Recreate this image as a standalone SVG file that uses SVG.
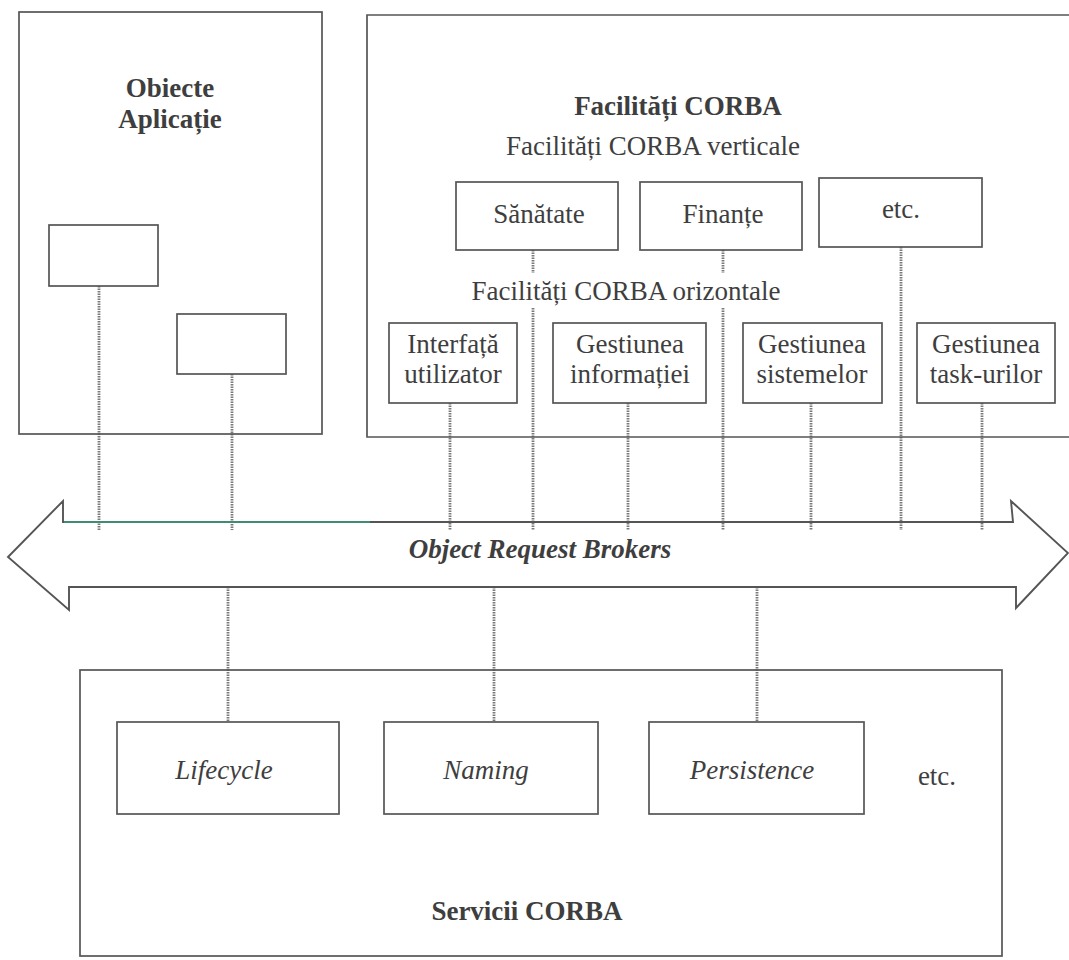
<svg xmlns="http://www.w3.org/2000/svg" width="1069" height="960" viewBox="0 0 1069 960">
<style>
.bx{fill:none;stroke:#555555;stroke-width:1.7}
.t{font-family:"Liberation Serif","Times New Roman",serif;font-size:27px;fill:#3e3e3e;text-anchor:middle}
.b{font-weight:bold}
.i{font-style:italic}
.cn{stroke:#7a7a7a;stroke-width:2.8;stroke-dasharray:1.5 1;fill:none}
</style>
<rect width="1069" height="960" fill="#ffffff"/>

<g id="connectors">
  <line class="cn" x1="99" y1="286" x2="99" y2="530"/>
  <line class="cn" x1="232" y1="374" x2="232" y2="530"/>
  <line class="cn" x1="533" y1="250" x2="533" y2="273"/>
  <line class="cn" x1="533" y1="308" x2="533" y2="530"/>
  <line class="cn" x1="723" y1="250" x2="723" y2="273"/>
  <line class="cn" x1="723" y1="308" x2="723" y2="530"/>
  <line class="cn" x1="901" y1="247" x2="901" y2="530"/>
  <line class="cn" x1="450" y1="403" x2="450" y2="530"/>
  <line class="cn" x1="628" y1="403" x2="628" y2="530"/>
  <line class="cn" x1="811" y1="403" x2="811" y2="530"/>
  <line class="cn" x1="982" y1="403" x2="982" y2="530"/>
  <line class="cn" x1="228" y1="587" x2="228" y2="722"/>
  <line class="cn" x1="494" y1="587" x2="494" y2="722"/>
  <line class="cn" x1="757" y1="587" x2="757" y2="722"/>
</g>

<g id="obiecte-aplicatie">
  <rect class="bx" x="19" y="12" width="303" height="422"/>
  <text class="t b" x="170" y="97">Obiecte</text>
  <text class="t b" x="170" y="128">Aplicație</text>
</g>
<g id="app-obj-1"><rect class="bx" x="49" y="225" width="109" height="61"/></g>
<g id="app-obj-2"><rect class="bx" x="177" y="314" width="109" height="60"/></g>

<g id="facilitati-corba">
  <path class="bx" d="M1069,15 H367 V437 H1069"/>
  <text class="t b" x="678" y="115">Facilități CORBA</text>
  <text class="t" x="653" y="155">Facilități CORBA verticale</text>
  <text class="t" x="626" y="300">Facilități CORBA orizontale</text>
</g>
<g id="sanatate"><rect class="bx" x="456" y="182" width="162" height="68"/><text class="t" x="539" y="223">Sănătate</text></g>
<g id="finante"><rect class="bx" x="640" y="182" width="162" height="68"/><text class="t" x="723" y="223">Finanțe</text></g>
<g id="etc-vert"><rect class="bx" x="819" y="178" width="163" height="69"/><text class="t" x="901" y="218">etc.</text></g>

<g id="interfata"><rect class="bx" x="389" y="323" width="128" height="80"/><text class="t" x="453" y="353">Interfață</text><text class="t" x="453" y="383">utilizator</text></g>
<g id="gest-info"><rect class="bx" x="553" y="323" width="153" height="80"/><text class="t" x="630" y="353">Gestiunea</text><text class="t" x="630" y="383">informației</text></g>
<g id="gest-sist"><rect class="bx" x="743" y="323" width="139" height="80"/><text class="t" x="812" y="353">Gestiunea</text><text class="t" x="812" y="383">sistemelor</text></g>
<g id="gest-task"><rect class="bx" x="917" y="323" width="138" height="80"/><text class="t" x="986" y="353">Gestiunea</text><text class="t" x="986" y="383">task-urilor</text></g>

<g id="orb">
  <polygon points="63,522 1013,522 1011,501 1068,553 1016,608 1016,587 69,587 69,610 8,557 63,501" fill="none" stroke="#555555" stroke-width="1.9" stroke-linejoin="miter"/>
  <line x1="64" y1="522" x2="370" y2="522" stroke="#3a9f78" stroke-width="1.6"/>
  <text class="t b i" x="540" y="558">Object Request Brokers</text>
</g>

<g id="servicii-corba">
  <rect class="bx" x="80" y="670" width="922" height="286"/>
  <text class="t b" x="527" y="920">Servicii CORBA</text>
  <text class="t" x="937" y="785">etc.</text>
</g>
<g id="lifecycle"><rect class="bx" x="117" y="722" width="222" height="92"/><text class="t i" x="224" y="779">Lifecycle</text></g>
<g id="naming"><rect class="bx" x="384" y="722" width="214" height="92"/><text class="t i" x="486" y="779">Naming</text></g>
<g id="persistence"><rect class="bx" x="649" y="722" width="215" height="92"/><text class="t i" x="752" y="779">Persistence</text></g>
</svg>
